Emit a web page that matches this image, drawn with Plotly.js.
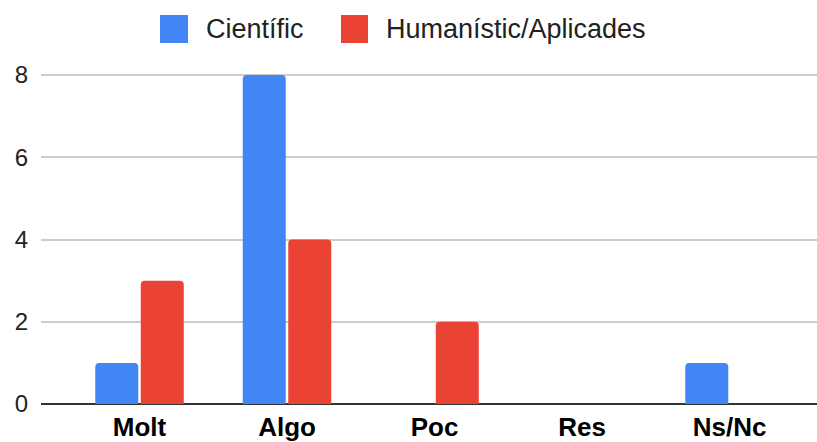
<!DOCTYPE html>
<html>
<head>
<meta charset="utf-8">
<script src="https://cdn.plot.ly/plotly-3.0.1.min.js"></script>
<style>
html,body{margin:0;padding:0;background:#fff;}
#chart{width:817px;height:442px;}
</style>
</head>
<body>
<div id="chart"></div>
<script>
const categories = ["Molt", "Algo", "Poc", "Res", "Ns/Nc"];
const seriesNames = ["Científic", "Humanístic/Aplicades"];
const cientific = [1, 8, 0, 0, 1];
const humanistic = [3, 4, 2, 0, 0];
const yTicks = [0, 2, 4, 6, 8];
const colors = ["#4285F4", "#EA4335"];

const FONT = "Arial, 'Liberation Sans', sans-serif";

const traces = [
  {type: "bar", name: seriesNames[0], x: categories, y: cientific,
   marker: {color: colors[0], cornerradius: 4}, showlegend: false, hoverinfo: "x+y+name"},
  {type: "bar", name: seriesNames[1], x: categories, y: humanistic,
   marker: {color: colors[1], cornerradius: 4}, showlegend: false, hoverinfo: "x+y+name"}
];

// plot area: left 41px, width 776px; zero at 404px, 8 at 75px
const L = 41, W = 776, T = 72, B = 404;
const H = B - T;
const yMax = 8 * (B - T) / (B - 75);
const px = v => (v - L) / W;
const py = v => (B - v) / H;
const legendSquares = [[160, 188], [341, 368]];
const legendTextX = [204, 384];

const shapes = legendSquares.map((s, i) => ({
  type: "rect", xref: "paper", yref: "paper",
  x0: px(s[0]), x1: px(s[1]), y0: py(43), y1: py(15),
  fillcolor: colors[i], line: {width: 0}
}));
const annotations = seriesNames.map((n, i) => ({
  xref: "paper", yref: "paper", x: px(legendTextX[i]), y: py(29.5),
  xanchor: "left", yanchor: "middle", showarrow: false, text: n,
  font: {family: FONT, size: 27, color: "#222222"}
}));

const layout = {
  width: 817, height: 442,
  margin: {l: L, r: 0, t: T, b: 442 - B, pad: 0},
  paper_bgcolor: "#ffffff", plot_bgcolor: "#ffffff",
  barmode: "group", bargap: 0.383, bargroupgap: 0.055,
  showlegend: false,
  xaxis: {
    type: "category", range: [-0.6678, 4.593],
    showgrid: false, zeroline: false, showline: false, ticks: "",
    tickfont: {family: FONT, size: 26, color: "#000000", weight: "bold"},
    ticklabelstandoff: 5, fixedrange: true
  },
  yaxis: {
    range: [0, yMax], tickvals: yTicks, ticktext: yTicks.map(String),
    showgrid: true, gridcolor: "#cccccc", gridwidth: 2,
    zeroline: true, zerolinecolor: "#333333", zerolinewidth: 2,
    showline: false, ticks: "",
    tickfont: {family: FONT, size: 24, color: "#222222"},
    ticklabelstandoff: 12, fixedrange: true
  },
  shapes: shapes,
  annotations: annotations
};

Plotly.newPlot("chart", traces, layout, {displayModeBar: false, staticPlot: true});
</script>
</body>
</html>
